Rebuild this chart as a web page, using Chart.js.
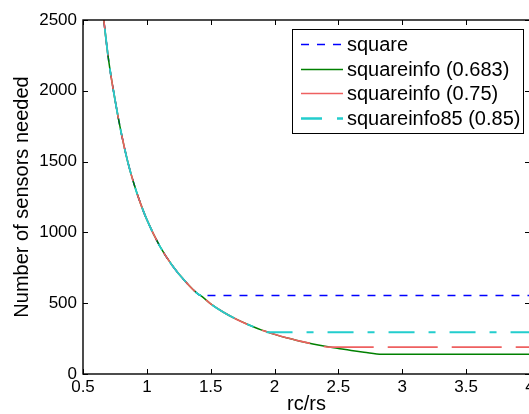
<!DOCTYPE html>
<html>
<head>
<meta charset="utf-8">
<script src="https://cdn.jsdelivr.net/npm/chart.js@4/dist/chart.umd.min.js"></script>
<style>
  html, body { margin: 0; padding: 0; background: #fff; overflow: hidden; width: 529px; height: 414px; }
  canvas { display: block; }
</style>
</head>
<body>
<canvas id="c" width="531" height="414" style="width:531px;height:414px"></canvas>
<script>
// ---- data ----
const rcRs = [0.65, 0.7, 0.75, 0.8, 0.85, 0.9, 0.95, 1.0, 1.1, 1.2, 1.3, 1.4, 1.42, 1.5, 1.6, 1.7, 1.8, 1.9, 1.95, 2.0, 2.1, 2.2, 2.3, 2.43, 2.5, 2.6, 2.7, 2.84, 3.0, 3.5, 4.0];
const squareNeeded = [2600, 2220, 1940, 1700, 1500, 1340, 1205, 1090, 905, 765, 655, 565, 555, 555, 555, 555, 555, 555, 555, 555, 555, 555, 555, 555, 555, 555, 555, 555, 555, 555, 555];
const info683 = [2600, 2220, 1940, 1700, 1500, 1340, 1205, 1090, 905, 765, 655, 565, 555, 495, 436, 387, 346, 310, 295, 280, 254, 232, 212, 190, 180, 166, 154, 139, 139, 139, 139];
const info75 = [2600, 2220, 1940, 1700, 1500, 1340, 1205, 1090, 905, 765, 655, 565, 555, 495, 436, 387, 346, 310, 295, 280, 254, 232, 212, 190, 190, 190, 190, 190, 190, 190, 190];
const info85 = [2600, 2220, 1940, 1700, 1500, 1340, 1205, 1090, 905, 765, 655, 565, 555, 495, 436, 387, 346, 310, 295, 295, 295, 295, 295, 295, 295, 295, 295, 295, 295, 295, 295];
const seriesLabels = ['square', 'squareinfo (0.683)', 'squareinfo (0.75)', 'squareinfo85 (0.85)'];
const xTickValues = [0.5, 1, 1.5, 2, 2.5, 3, 3.5, 4];
const yTickValues = [0, 500, 1000, 1500, 2000, 2500];
const xTitle = 'rc/rs';
const yTitle = 'Number of sensors needed';

const FONT = '"Liberation Sans", Arial, Helvetica, sans-serif';
const pts = (ys) => rcRs.map((x, i) => ({ x: x, y: ys[i] }));

const boxPlugin = {
  id: 'matlabBox',
  afterDatasetsDraw(chart) {
    const { ctx, chartArea: a, scales: { x, y } } = chart;
    ctx.save();
    ctx.strokeStyle = '#000';
    ctx.lineWidth = 1.4;
    ctx.strokeRect(a.left, a.top, a.right - a.left, a.bottom - a.top);
    ctx.lineWidth = 1;
    const tl = 5;
    ctx.beginPath();
    x.ticks.forEach(t => {
      const px = Math.round(x.getPixelForValue(t.value)) + 0.5;
      ctx.moveTo(px, a.bottom); ctx.lineTo(px, a.bottom - tl);
      ctx.moveTo(px, a.top); ctx.lineTo(px, a.top + tl);
    });
    y.ticks.forEach(t => {
      const py = Math.round(y.getPixelForValue(t.value)) + 0.5;
      ctx.moveTo(a.left, py); ctx.lineTo(a.left + tl, py);
      ctx.moveTo(a.right, py); ctx.lineTo(a.right - tl, py);
    });
    ctx.stroke();
    ctx.restore();
  },
  afterDraw(chart) {
    // legend box (inside axes, top-right, MATLAB style)
    const ctx = chart.ctx;
    const bx = 292.5, by = 29.5, bw = 231, bh = 104;
    ctx.save();
    ctx.fillStyle = '#fff';
    ctx.fillRect(bx, by, bw, bh);
    ctx.strokeStyle = '#000';
    ctx.lineWidth = 1;
    ctx.strokeRect(bx, by, bw, bh);
    const rowY = [44, 69, 93, 118];
    ctx.font = '20px ' + FONT;
    ctx.textBaseline = 'middle';
    ctx.textAlign = 'left';
    chart.data.datasets.forEach((ds, i) => {
      const yy = rowY[i] + 0.5;
      ctx.beginPath();
      ctx.strokeStyle = ds.borderColor;
      ctx.lineWidth = ds.legendWidth || ds.borderWidth;
      ctx.setLineDash(ds.legendDash || []);
      ctx.moveTo(301, yy); ctx.lineTo(343, yy);
      ctx.stroke();
      ctx.setLineDash([]);
      ctx.fillStyle = '#000';
      ctx.fillText(ds.label, 347, rowY[i] + 1);
    });
    ctx.restore();
  }
};

new Chart(document.getElementById('c'), {
  type: 'line',
  data: {
    datasets: [
      { label: seriesLabels[0], data: pts(squareNeeded), borderColor: '#0000ff', borderWidth: 1.5, borderDash: [8, 8], legendDash: [8, 8], order: 4 },
      { label: seriesLabels[1], data: pts(info683), borderColor: '#008000', borderWidth: 1.5, order: 3 },
      { label: seriesLabels[2], data: pts(info75), borderColor: 'rgb(238,96,96)', borderWidth: 1.6, borderDash: [50, 14], legendDash: [], legendWidth: 1.6, order: 2 },
      { label: seriesLabels[3], data: pts(info85), borderColor: 'rgb(35,205,205)', borderWidth: 1.8, borderDash: [26, 14, 7, 14], borderDashOffset: 38, legendDash: [21, 15, 6, 15], legendWidth: 2.5, order: 1 }
    ].map(d => Object.assign({ pointRadius: 0, pointHoverRadius: 0, fill: false, cubicInterpolationMode: 'monotone' }, d))
  },
  options: {
    responsive: false,
    animation: false,
    devicePixelRatio: 1,
    layout: { padding: { top: 20, right: 1, left: 0, bottom: 0 } },
    plugins: { legend: { display: false }, tooltip: { enabled: false } },
    scales: {
      x: {
        type: 'linear', min: 0.5, max: 4,
        grid: { display: false, drawTicks: false },
        border: { display: false },
        afterBuildTicks: (s) => { s.ticks = xTickValues.map(v => ({ value: v })); },
        ticks: { color: '#000', font: { size: 17, family: FONT }, padding: 3, maxRotation: 0, autoSkip: false,
                 callback: (v) => String(v) },
        title: { display: true, text: xTitle, color: '#000', font: { size: 20, family: FONT, lineHeight: 1 }, padding: { top: 0, bottom: 0 } },
        afterFit: (s) => { s.height = 40; s.paddingLeft = 0; s.paddingRight = 0; }
      },
      y: {
        type: 'linear', min: 0, max: 2500,
        grid: { display: false, drawTicks: false },
        border: { display: false },
        afterBuildTicks: (s) => { s.ticks = yTickValues.map(v => ({ value: v })); },
        ticks: { color: '#000', font: { size: 17, family: FONT }, padding: 6, autoSkip: false,
                 callback: (v) => String(v) },
        title: { display: true, text: yTitle, color: '#000', font: { size: 20, family: FONT, lineHeight: 1 }, padding: { top: 12, bottom: 0 } },
        afterFit: (s) => { s.width = 83; s.paddingTop = 0; s.paddingBottom = 0; }
      }
    }
  },
  plugins: [boxPlugin]
});
</script>
</body>
</html>
